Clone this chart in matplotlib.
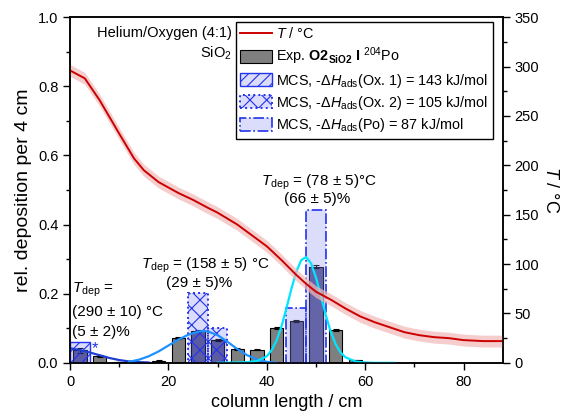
import numpy as np
import matplotlib
matplotlib.use('Agg')
import matplotlib.pyplot as plt
from matplotlib.ticker import MultipleLocator
from matplotlib.patches import Patch

plt.rcParams['font.family'] = ['Liberation Sans', 'DejaVu Sans']
plt.rcParams['mathtext.fontset'] = 'custom'
plt.rcParams['mathtext.rm'] = 'Liberation Sans'
plt.rcParams['mathtext.it'] = 'Liberation Sans:italic'
plt.rcParams['mathtext.bf'] = 'Liberation Sans:bold'
plt.rcParams['hatch.linewidth'] = 0.8

# experimental deposition per 4 cm bin
bin_centers = [2, 6, 10, 14, 18, 22, 26, 30, 34, 38, 42, 46, 50, 54, 58]
exp_values = [0.036, 0.020, 0.002, 0.002, 0.006, 0.072, 0.092, 0.066, 0.040, 0.038, 0.102, 0.121, 0.278, 0.095, 0.007]
exp_errors = [0.008, 0.002, 0.001, 0.001, 0.002, 0.003, 0.003, 0.003, 0.002, 0.002, 0.003, 0.004, 0.004, 0.003, 0.002]

# MCS simulated bins (left edge, height)
ox1_left = [0]
ox1_height = [0.060]
ox2_left = [24, 28]
ox2_height = [0.202, 0.102]
po_left = [44, 48]
po_height = [0.160, 0.442]

# fitted curves
ox1_x = [0, 2, 4, 6, 8, 10, 12, 14, 16]
ox1_y = [0.042, 0.037, 0.030, 0.022, 0.014, 0.008, 0.004, 0.002, 0.001]
ox2_x = [12, 14, 16, 18, 20, 22, 24, 26, 27, 28, 30, 32, 34, 36, 38, 40, 42]
ox2_y = [0.003, 0.009, 0.019, 0.033, 0.050, 0.067, 0.081, 0.090, 0.092, 0.091, 0.080, 0.061, 0.040, 0.022, 0.010, 0.003, 0.0]
po_x = [30, 34, 36, 38, 40, 41, 42, 43, 44, 45, 46, 47, 48, 49, 50, 51, 52, 53, 54, 55, 56, 58, 60, 62, 66]
po_y = [0.0, 0.001, 0.002, 0.005, 0.019, 0.037, 0.065, 0.106, 0.158, 0.214, 0.263, 0.297, 0.306, 0.288, 0.247, 0.193, 0.138, 0.090, 0.054, 0.030, 0.016, 0.004, 0.001, 0.0, 0.0]

# temperature profile
temp_x = [0, 3, 6, 10, 13, 15, 18, 22, 25, 28, 30, 32, 34, 37, 40, 43, 46, 48, 50, 53, 56, 59, 62, 65, 68, 71, 74, 77, 80, 84, 88]
temp_y = [296, 288, 266, 232, 207, 195, 183, 172, 165, 157, 152, 146, 140, 129, 118, 104, 89, 80, 72, 64, 55, 47, 41, 36, 31, 28, 26, 25, 23, 22, 22]
temp_err = 6

fig = plt.figure(figsize=(5.65, 4.18), dpi=100)
ax = fig.add_axes([0.124, 0.132, 0.766, 0.827])
ax2 = ax.twinx()

# gray bars, darker where a simulated bin lies on top
mcs_edges = [(l, l + 4) for l in ox1_left + ox2_left + po_left]
bar_colors = ['#53538a' if any(a < c < b for a, b in mcs_edges) else '#7f7f7f' for c in bin_centers]
ax.bar(bin_centers, exp_values, width=2.7, color=bar_colors, edgecolor='black', linewidth=0.8, zorder=2)
ax.errorbar(bin_centers, exp_values, yerr=exp_errors, fmt='none', ecolor='black',
            elinewidth=0.8, capsize=2.5, capthick=0.8, zorder=3)
exp_handle = Patch(facecolor='#7f7f7f', edgecolor='black', linewidth=0.8,
                   label=r'Exp. $\mathbf{O2_{SiO2}}$ $\mathbf{I}$ $^{204}$Po')

b1 = ax.bar(ox1_left, ox1_height, width=4, align='edge', facecolor=(0.45, 0.45, 0.95, 0.25),
            edgecolor='#2233ee', hatch='///', linewidth=1.0, zorder=4,
            label=r'MCS, -$\Delta H_\mathrm{ads}$(Ox. 1) = 143 kJ/mol')
b2 = ax.bar(ox2_left, ox2_height, width=4, align='edge', facecolor=(0.45, 0.45, 0.95, 0.25),
            edgecolor='#2233ee', hatch='xx', linewidth=1.4, linestyle=':', zorder=4,
            label=r'MCS, -$\Delta H_\mathrm{ads}$(Ox. 2) = 105 kJ/mol')
b3 = ax.bar(po_left, po_height, width=4, align='edge', facecolor=(0.55, 0.55, 0.95, 0.3),
            edgecolor='#2233ee', linewidth=1.2, linestyle='-.', zorder=4,
            label=r'MCS, -$\Delta H_\mathrm{ads}$(Po) = 87 kJ/mol')

ax.plot(ox1_x, ox1_y, color='#1f3fd0', lw=1.6, zorder=5)
ax.plot(ox2_x, ox2_y, color='#1e90ff', lw=1.6, zorder=5)
ax.plot(po_x, po_y, color='#00e5ff', lw=1.6, zorder=5)
ax.text(5, 0.04, '*', color='#2233ee', fontsize=12, ha='center', va='center', zorder=6)

# temperature on right axis
ax2.fill_between(temp_x, np.array(temp_y) - temp_err, np.array(temp_y) + temp_err,
                 color='#f2b8b8', alpha=0.7, lw=0)
t_line, = ax2.plot(temp_x, temp_y, color='#cc0000', lw=1.4, label=r'$T$ / °C')

ax.set_xlim(0, 88)
ax.set_ylim(0, 1.0)
ax2.set_ylim(0, 350)
ax.xaxis.set_major_locator(MultipleLocator(20))
ax.xaxis.set_minor_locator(MultipleLocator(10))
ax.yaxis.set_major_locator(MultipleLocator(0.2))
ax.yaxis.set_minor_locator(MultipleLocator(0.1))
ax2.yaxis.set_major_locator(MultipleLocator(50))
ax2.yaxis.set_minor_locator(MultipleLocator(25))
ax.yaxis.set_major_formatter(matplotlib.ticker.FormatStrFormatter('%.1f'))
for a in (ax, ax2):
    a.tick_params(which='both', direction='out', labelsize=10.5, width=1)
    a.tick_params(which='major', length=5)
    a.tick_params(which='minor', length=3)
    for s in a.spines.values():
        s.set_linewidth(1.1)

ax.set_xlabel('column length / cm', fontsize=13)
ax.set_ylabel('rel. deposition per 4 cm', fontsize=14)
ax2.set_ylabel(r'$T$ / °C', fontsize=13, rotation=270, labelpad=14)

# annotations
ax.text(0.4, 0.21, r'$T_\mathrm{dep}$ =', fontsize=11, ha='left', va='center', zorder=7)
ax.text(0.4, 0.148, '(290 ± 10) °C', fontsize=11, ha='left', va='center', zorder=7)
ax.text(0.4, 0.088, '(5 ± 2)%', fontsize=11, ha='left', va='center', zorder=7)
ax.text(27.5, 0.283, r'$T_\mathrm{dep}$ = (158 ± 5) °C', fontsize=11, ha='center', va='center', zorder=7)
ax.text(26.2, 0.231, '(29 ± 5)%', fontsize=11, ha='center', va='center', zorder=7)
ax.text(50.7, 0.523, r'$T_\mathrm{dep}$ = (78 ± 5)°C', fontsize=11, ha='center', va='center', zorder=7)
ax.text(50.3, 0.474, '(66 ± 5)%', fontsize=11, ha='center', va='center', zorder=7)

ax.text(0.374, 0.974, 'Helium/Oxygen (4:1)', transform=ax.transAxes, fontsize=10.5, ha='right', va='top')
ax.text(0.374, 0.922, r'SiO$_2$', transform=ax.transAxes, fontsize=10.5, ha='right', va='top')

handles = [t_line, exp_handle, b1, b2, b3]
leg = ax2.legend(handles, [h.get_label() for h in handles],
                 loc='upper right', bbox_to_anchor=(0.977, 0.986), fontsize=10.4, frameon=True,
                 fancybox=False, edgecolor='black', framealpha=1, borderpad=0.3,
                 labelspacing=0.3, handlelength=2.2, handleheight=1.0, handletextpad=0.3,
                 borderaxespad=0)
leg.get_frame().set_linewidth(1.0)

fig.savefig('out.png', dpi=100)
